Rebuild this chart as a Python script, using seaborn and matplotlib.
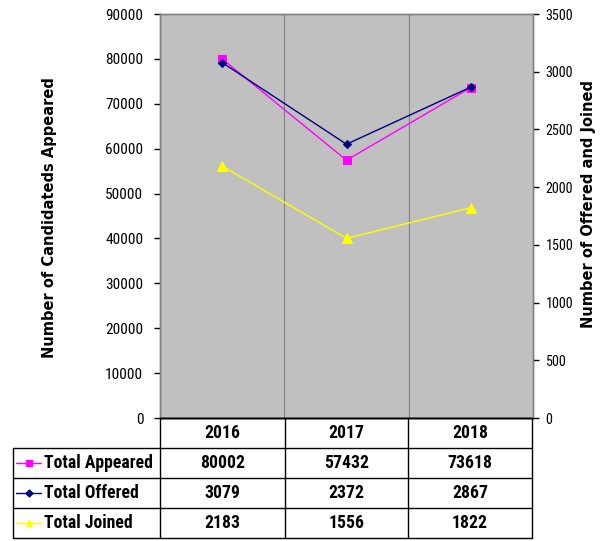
import matplotlib
matplotlib.use("Agg")
import matplotlib.pyplot as plt
import matplotlib.font_manager as fm
from matplotlib.lines import Line2D
import seaborn as sns
import pandas as pd

years = ["2016", "2017", "2018"]
total_appeared = [80002, 57432, 73618]
total_offered = [3079, 2372, 2867]
total_joined = [2183, 1556, 1822]
series_names = ["Total Appeared", "Total Offered", "Total Joined"]
left_ticks = [0, 10000, 20000, 30000, 40000, 50000, 60000, 70000, 80000, 90000]
right_ticks = [0, 500, 1000, 1500, 2000, 2500, 3000, 3500]

sns.set_style("white")
plt.rcParams["text.color"] = "black"
plt.rcParams["ytick.color"] = "black"
plt.rcParams["axes.labelcolor"] = "black"

# find a condensed font if present
paths = [f.fname for f in fm.fontManager.ttflist]
def find(keys):
    for k in keys:
        for p in paths:
            if k.lower() in p.lower().replace(" ", "").replace("_", "").replace("-", ""):
                return p
    return None

reg_path = find(["LiberationSansNarrowRegular", "RobotoCondensedRegular", "DejaVuSansCondensed.ttf", "OpenSansCondensedRegular"])
bold_path = find(["LiberationSansNarrowBold.ttf", "RobotoCondensedBold", "DejaVuSansCondensedBold.ttf", "OpenSansCondensedBold"])
if reg_path:
    tick_fp = fm.FontProperties(fname=reg_path, size=11)
    tick_fp_r = fm.FontProperties(fname=reg_path, size=10.2)
else:
    tick_fp = fm.FontProperties(family=["Liberation Sans", "DejaVu Sans"], size=9.3)
    tick_fp_r = fm.FontProperties(family=["Liberation Sans", "DejaVu Sans"], size=9)
if bold_path:
    tab_fp = fm.FontProperties(fname=bold_path, size=12.7)
else:
    tab_fp = fm.FontProperties(family=["Liberation Sans", "DejaVu Sans"], weight="bold", size=10.5)

W, H = 610, 541
fig = plt.figure(figsize=(W / 100, H / 100), dpi=100, facecolor="white")

def fx(x):
    return x / W

def fy(y):
    return 1 - y / H

L, R, T, B = 160, 533, 14, 418
ax = fig.add_axes([fx(L), fy(B), (R - L) / W, (B - T) / H])
ax.set_facecolor("#C0C0C0")
ax2 = ax.twinx()

df = pd.DataFrame({"x": range(len(years)), "year": years,
                   "appeared": total_appeared, "offered": total_offered,
                   "joined": total_joined})

sns.lineplot(data=df, x="x", y="appeared", ax=ax, color="#FF00FF", marker="s",
             markersize=6, markeredgecolor="#FF00FF", linewidth=1, zorder=3)
sns.lineplot(data=df, x="x", y="offered", ax=ax2, color="#000080", marker="D",
             markersize=4.5, markeredgecolor="#000080", linewidth=1, zorder=4)
sns.lineplot(data=df, x="x", y="joined", ax=ax2, color="#FFFF00", marker="^",
             markersize=6.5, markeredgecolor="#FFFF00", linewidth=1, zorder=3)

ax.set_xlim(-0.5, len(years) - 0.5)
ax.set_ylim(0, 90000)
ax2.set_ylim(0, 3500)
ax.set_xticks([])
ax.set_yticks(left_ticks)
ax2.set_yticks(right_ticks)
ax.set_yticklabels([str(t) for t in left_ticks], fontproperties=tick_fp)
ax2.set_yticklabels([str(t) for t in right_ticks], fontproperties=tick_fp_r)
ax.tick_params(axis="y", direction="out", length=4, width=1, color="black", pad=8, left=True)
ax2.tick_params(axis="y", direction="out", length=4, width=1, color="black", pad=5, right=True)
ax.set_xlabel("")
ax2.set_xlabel("")
lab_font = dict(fontfamily=["DejaVu Sans"], fontsize=10.5, fontweight="bold")
ax.set_ylabel("Number of Candidateds Appeared", **lab_font)
ax2.set_ylabel("Number of Offered and Joined", rotation=90, **lab_font)
ax.yaxis.set_label_coords((49 - L) / (R - L), (B - 218) / (B - T))
ax2.yaxis.set_label_coords((589 - L) / (R - L), (B - 204) / (B - T))
for lab in (ax.yaxis.label, ax2.yaxis.label):
    lab.set_va("center")
    lab.set_ha("center")
for a in (ax, ax2):
    for s in a.spines.values():
        s.set_color("#808080")
        s.set_linewidth(1)
ax.spines["bottom"].set_color("black")
ax2.spines["bottom"].set_color("black")
for xb in [0.5, 1.5]:
    ax.axvline(xb, color="#808080", linewidth=0.8, zorder=1)

# data table
def hline(x0, x1, y):
    fig.add_artist(Line2D([fx(x0), fx(x1)], [fy(y), fy(y)], color="black", linewidth=1))

def vline(x, y0, y1):
    fig.add_artist(Line2D([fx(x), fx(x)], [fy(y0), fy(y1)], color="black", linewidth=1))

col_edges = [160, 285, 408, 532]
row_edges = [418, 448, 478, 508, 538]
leg_left = 13
hline(160, 532, 418)
for y in row_edges[1:]:
    hline(leg_left, 532, y)
vline(leg_left, 448, 538)
for x in col_edges:
    vline(x, 418, 538)

for i, yr in enumerate(years):
    cx = (col_edges[i] + col_edges[i + 1]) / 2
    fig.text(fx(cx), fy(433), yr, ha="center", va="center", fontproperties=tab_fp)

rows = [total_appeared, total_offered, total_joined]
styles = [("#FF00FF", "s", 4.5), ("#000080", "D", 3.5), ("#FFFF00", "^", 5)]
for r, (name, vals, (c, m, ms)) in enumerate(zip(series_names, rows, styles)):
    cy = (row_edges[r + 1] + row_edges[r + 2]) / 2
    fig.add_artist(Line2D([fx(16), fx(41)], [fy(cy), fy(cy)], color=c, linewidth=1))
    fig.add_artist(Line2D([fx(28.5)], [fy(cy)], color=c, marker=m, markersize=ms,
                          markeredgecolor=c, linestyle="none"))
    fig.text(fx(44), fy(cy), name, ha="left", va="center", fontproperties=tab_fp)
    for i, v in enumerate(vals):
        cx = (col_edges[i] + col_edges[i + 1]) / 2
        fig.text(fx(cx), fy(cy), str(v), ha="center", va="center", fontproperties=tab_fp)

fig.savefig("out.png", dpi=100, facecolor="white")
